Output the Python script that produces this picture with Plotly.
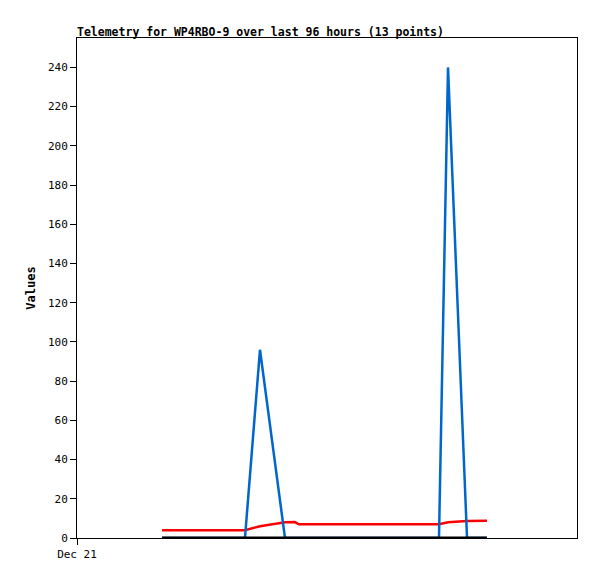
import plotly.graph_objects as go
import pandas as pd

# Telemetry samples
times = pd.to_datetime([
    '2023-12-21 16:19', '2023-12-22 08:15', '2023-12-22 11:08',
    '2023-12-22 15:56', '2023-12-22 17:50', '2023-12-22 18:35',
    '2023-12-23 21:30', '2023-12-23 23:14', '2023-12-24 02:53',
    '2023-12-24 06:43',
])
ch1 = [0, 0, 96, 0, 0, 0, 0, 240, 0, 0]
ch2 = [4, 4, 6, 8, 8.1, 7, 7, 8, 8.7, 8.8]
ch3 = [0, 0, 0, 0, 0, 0, 0, 0, 0, 0]

y_ticks = list(range(0, 241, 20))
x_start = '2023-12-21 00:00'
x_end = '2023-12-25 00:00'

mono = 'DejaVu Sans Mono'

# page body has an 8px margin, so the figure is sized/offset for it
W, H = 589, 571

fig = go.Figure()
fig.add_trace(go.Scatter(x=times, y=ch2, mode='lines',
                         line=dict(width=2.5, color='#ff0000'), name='ch2'))
fig.add_trace(go.Scatter(x=times, y=ch1, mode='lines',
                         line=dict(width=2.5, color='#0066cc'), name='ch1'))
fig.add_trace(go.Scatter(x=times, y=ch3, mode='lines',
                         line=dict(width=3, color='black'), name='ch3'))

fig.update_xaxes(
    range=[x_start, x_end],
    tickvals=[x_start], ticktext=['Dec 21'],
    ticks='outside', ticklen=6, tickcolor='black',
    showline=True, linecolor='black', linewidth=1, mirror=True,
    showgrid=False, zeroline=False,
    tickfont=dict(family=mono, size=11, color='black'),
)
fig.update_yaxes(
    range=[0, 255],
    tickvals=y_ticks,
    ticks='outside', ticklen=6, tickcolor='black',
    showline=True, linecolor='black', linewidth=1, mirror=True,
    showgrid=False, zeroline=False,
    tickfont=dict(family=mono, size=11, color='black'),
    title=dict(text='<b>Values</b>', standoff=9,
               font=dict(family=mono, size=12, color='black')),
)
fig.update_layout(
    width=W, height=H,
    showlegend=False,
    margin=dict(l=69, r=20, t=30, b=41),
    plot_bgcolor='white',
    paper_bgcolor='white',
    title=dict(text='<b>Telemetry for WP4RBO-9 over last 96 hours (13 points)</b>',
               x=69 / W, xanchor='left', y=1 - 24 / H, yanchor='middle',
               font=dict(family=mono, size=11.5, color='black')),
)

fig.write_html("out.html")
